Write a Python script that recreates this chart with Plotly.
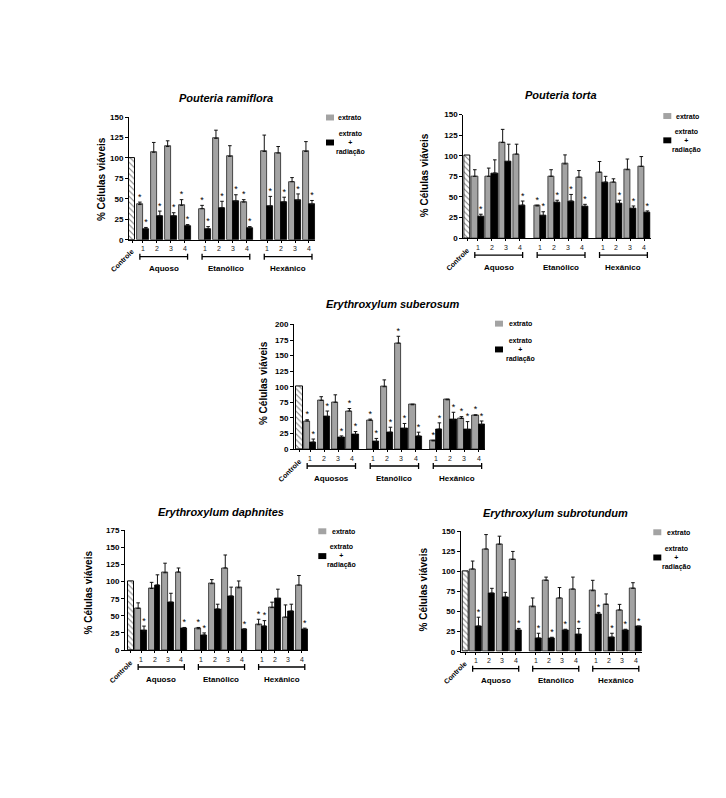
import plotly.graph_objects as go

FIG_W, FIG_H = 726, 798
OX, OY = 8, 8  # page offset of the figure in the screenshot (body margin)

FONT = "Liberation Sans, Arial, sans-serif"

# ---------------- data ----------------
dose_labels = ["1", "2", "3", "4"]
control_label = "Controle"
control_value = 100
legend_ext = "extrato"
legend_rad = "extrato<br>+<br>radiação"
y_title = "% Células viáveis"

groups_a = ["Aquoso", "Etanólico", "Hexânico"]
groups_b = ["Aquosos", "Etanólico", "Hexânico"]

# Pouteria ramiflora
pr_title = "Pouteria ramiflora"
pr_ext = [43, 107, 114, 42, 38, 124, 102, 46, 108, 106, 71, 108]
pr_ext_err = [3, 12, 7, 7, 4, 10, 13, 3, 20, 8, 5, 12]
pr_rad = [13, 29, 29, 17, 13, 39, 47, 14, 41, 46, 48, 43]
pr_rad_err = [2, 6, 4, 1.5, 3, 8, 8, 2, 12, 6, 8, 5]
pr_ext_sig = [1, 0, 0, 1, 1, 0, 0, 1, 0, 0, 0, 0]
pr_rad_sig = [1, 1, 1, 1, 1, 1, 1, 1, 1, 1, 1, 1]

# Pouteria torta
pt_title = "Pouteria torta"
pt_ext = [75, 75, 116, 102, 39, 75, 90, 74, 80, 68, 83, 87]
pt_ext_err = [8, 10, 16, 12, 1, 8, 11, 8, 13, 4, 13, 12]
pt_rad = [26, 79, 93, 40, 27, 43, 45, 38, 68, 42, 36, 31]
pt_rad_err = [3, 16, 21, 5, 5, 3, 8, 3, 7, 4, 3, 2]
pt_ext_sig = [0, 0, 0, 0, 1, 0, 0, 0, 0, 0, 0, 0]
pt_rad_sig = [1, 0, 0, 1, 1, 1, 1, 1, 0, 1, 1, 1]

# Erythroxylum suberosum
es_title = "Erythroxylum suberosum"
es_ext = [45, 78, 75, 61, 46, 100, 170, 71, 13, 79, 49, 54]
es_ext_err = [2, 6, 12, 4, 2, 11, 11, 1, 1, 1, 3, 1]
es_rad = [11, 52, 18, 23, 12, 27, 33, 21, 32, 47, 31, 39]
es_rad_err = [5, 9, 3, 5, 5, 8, 8, 6, 10, 12, 13, 6]
es_ext_sig = [1, 0, 0, 1, 1, 0, 1, 0, 1, 0, 1, 1]
es_rad_sig = [1, 1, 1, 1, 1, 1, 1, 1, 1, 1, 1, 1]

# Erythroxylum daphnites
ed_title = "Erythroxylum daphnites"
ed_ext = [61, 90, 113, 114, 31, 97, 120, 91, 37, 62, 48, 95]
ed_ext_err = [8, 9, 14, 6, 2, 6, 19, 10, 8, 8, 18, 14]
ed_rad = [28, 95, 70, 32, 22, 60, 79, 30, 35, 75, 57, 30]
ed_rad_err = [7, 15, 13, 1, 3, 7, 13, 1, 8, 14, 10, 2]
ed_ext_sig = [0, 0, 0, 0, 1, 0, 0, 0, 1, 0, 0, 0]
ed_rad_sig = [1, 0, 0, 1, 1, 0, 0, 1, 1, 0, 0, 1]

# Erythroxylum subrotundum
et_title = "Erythroxylum subrotundum"
et_ext = [103, 128, 134, 115, 56, 89, 67, 78, 76, 59, 52, 79]
et_ext_err = [10, 18, 10, 10, 11, 4, 13, 15, 13, 13, 7, 7]
et_rad = [32, 73, 68, 27, 17, 17, 27, 21, 47, 18, 27, 31]
et_rad_err = [11, 6, 6, 2, 6, 1, 1, 8, 2, 5, 1, 1]
et_ext_sig = [0, 0, 0, 0, 0, 0, 0, 0, 0, 0, 0, 0]
et_rad_sig = [1, 0, 0, 1, 1, 1, 1, 1, 1, 1, 1, 1]

# ---------------- layout geometry (screen pixels) ----------------
panels = [
    dict(title=pr_title, ext=pr_ext, ext_err=pr_ext_err, rad=pr_rad, rad_err=pr_rad_err,
         ext_sig=pr_ext_sig, rad_sig=pr_rad_sig, groups=groups_a, ymax=150,
         px0=129, px1=315.3, pytop=114.3, py0=238.3, xstart=-0.05,
         title_xy=(225.6, 95), ytitle_xy=(101, 177),
         leg=dict(sq_x=326, g_y=114.7, b_y=140, gtx=336, btx=350, b_lines_y=140.5)),
    dict(title=pt_title, ext=pt_ext, ext_err=pt_ext_err, rad=pt_rad, rad_err=pt_rad_err,
         ext_sig=pt_ext_sig, rad_sig=pt_rad_sig, groups=groups_a, ymax=150,
         px0=463.3, px1=650.7, pytop=111.7, py0=236.7, xstart=-0.15,
         title_xy=(560.5, 92.3), ytitle_xy=(424, 173),
         leg=dict(sq_x=663.3, g_y=113.2, b_y=137.8, gtx=674, btx=686, b_lines_y=138)),
    dict(title=es_title, ext=es_ext, ext_err=es_ext_err, rad=es_rad, rad_err=es_rad_err,
         ext_sig=es_ext_sig, rad_sig=es_rad_sig, groups=groups_b, ymax=200,
         px0=294, px1=485, pytop=324, py0=450, xstart=-0.4,
         title_xy=(392.5, 303.3), ytitle_xy=(263.3, 383),
         leg=dict(sq_x=495, g_y=323.2, b_y=349.3, gtx=506.7, btx=520, b_lines_y=350)),
    dict(title=ed_title, ext=ed_ext, ext_err=ed_ext_err, rad=ed_rad, rad_err=ed_rad_err,
         ext_sig=ed_ext_sig, rad_sig=ed_rad_sig, groups=groups_a, ymax=175,
         px0=125, px1=308, pytop=532.3, py0=653.3, xstart=-0.5,
         title_xy=(221, 513.3), ytitle_xy=(88, 595),
         leg=dict(sq_x=318.3, g_y=533.2, b_y=558.3, gtx=330, btx=341.7, b_lines_y=558.5)),
    dict(title=et_title, ext=et_ext, ext_err=et_ext_err, rad=et_rad, rad_err=et_rad_err,
         ext_sig=et_ext_sig, rad_sig=et_rad_sig, groups=groups_a, ymax=150,
         px0=460.7, px1=642, pytop=533.3, py0=655, xstart=-0.3,
         title_xy=(555.5, 515), ytitle_xy=(423, 592),
         leg=dict(sq_x=653.3, g_y=534.2, b_y=559.7, gtx=665, btx=676.7, b_lines_y=560)),
]

BW = 1.0
PAIR_PITCH = 2.3
GROUP_START = [1.25, 11.55, 21.85]
X_END = 30.8
GRAY = "#a3a3a3"


def fx(px):
    return (px - OX) / FIG_W


def fy(py):
    return 1 - (py - OY) / FIG_H


fig = go.Figure()
annotations = []
shapes = []
layout_axes = {}


def ann(**kw):
    kw.setdefault("showarrow", False)
    kw.setdefault("xanchor", "center")
    kw.setdefault("yanchor", "middle")
    annotations.append(kw)


for n, p in enumerate(panels, start=1):
    xa = "x" if n == 1 else f"x{n}"
    ya = "y" if n == 1 else f"y{n}"
    nvals = len(p["ext"])
    starts = [GROUP_START[i // 4] + PAIR_PITCH * (i % 4) for i in range(nvals)]
    gx = [s + 0.5 * BW for s in starts]
    bx = [s + 1.5 * BW for s in starts]

    # control bar
    fig.add_trace(go.Bar(
        x=[0.5 * BW], y=[control_value], width=BW, xaxis=xa, yaxis=ya, showlegend=False,
        name=control_label,
        marker=dict(color="white", line=dict(color="black", width=1),
                    pattern=dict(shape="\\", fgcolor="black", bgcolor="white", size=4, solidity=0.25)),
        hoverinfo="skip"))
    # extrato
    fig.add_trace(go.Bar(
        x=gx, y=p["ext"], width=BW, xaxis=xa, yaxis=ya, name=legend_ext, showlegend=False,
        marker=dict(color=GRAY, line=dict(color="#222", width=0.8)),
        error_y=dict(type="data", symmetric=False, array=p["ext_err"], arrayminus=[0] * nvals,
                     color="#111", thickness=1, width=1.8)))
    # extrato + radiação
    fig.add_trace(go.Bar(
        x=bx, y=p["rad"], width=BW, xaxis=xa, yaxis=ya, name="extrato + radiação", showlegend=False,
        marker=dict(color="black", line=dict(color="black", width=0.8)),
        error_y=dict(type="data", symmetric=False, array=p["rad_err"], arrayminus=[0] * nvals,
                     color="#111", thickness=1, width=1.8)))
    # significance stars
    sx, sy = [], []
    for i in range(nvals):
        if p["ext_sig"][i]:
            sx.append(gx[i]); sy.append(p["ext"][i] + p["ext_err"][i])
        if p["rad_sig"][i]:
            sx.append(bx[i]); sy.append(p["rad"][i] + p["rad_err"][i])
    fig.add_trace(go.Scatter(
        x=sx, y=sy, mode="text", text=["*"] * len(sx), textposition="top center",
        textfont=dict(family=FONT, size=9, color="black"), xaxis=xa, yaxis=ya,
        showlegend=False, cliponaxis=False, hoverinfo="skip"))

    key = "" if n == 1 else str(n)
    layout_axes[f"xaxis{key}"] = dict(
        domain=[fx(p["px0"]), fx(p["px1"])], anchor=ya, range=[p["xstart"], X_END],
        showgrid=False, zeroline=False, showline=True, linecolor="black", linewidth=1,
        ticks="outside", ticklen=2, tickwidth=1, tickcolor="black",
        tickvals=[0.5 * BW] + [s + BW for s in starts], showticklabels=False, fixedrange=True)
    layout_axes[f"yaxis{key}"] = dict(
        domain=[fy(p["py0"]), fy(p["pytop"])], anchor=xa, range=[0, p["ymax"]],
        dtick=25, tick0=0, showgrid=False, zeroline=False, showline=True, linecolor="black",
        linewidth=1, ticks="outside", ticklen=3, tickwidth=1, tickcolor="black",
        tickfont=dict(family=FONT, size=8, color="black", weight="bold"), fixedrange=True)

    yref = f"{ya} domain"
    # dose labels under pairs
    for i in range(nvals):
        ann(x=starts[i] + BW, y=0, xref=xa, yref=yref, yshift=-9,
            text=dose_labels[i % 4], font=dict(family=FONT, size=7, color="#222"))
    # group brackets and names
    for g in range(3):
        x_left = gx[4 * g]
        x_right = bx[4 * g + 3]
        shapes.append(dict(type="line", xref=xa, yref=yref, ysizemode="pixel", yanchor=0,
                           x0=x_left, x1=x_right, y0=-17, y1=-17,
                           line=dict(color="black", width=1.3)))
        for xe in (x_left, x_right):
            shapes.append(dict(type="line", xref=xa, yref=yref, ysizemode="pixel", yanchor=0,
                               x0=xe, x1=xe, y0=-14, y1=-20,
                               line=dict(color="black", width=1.3)))
        ann(x=(x_left + x_right) / 2, y=0, xref=xa, yref=yref, yshift=-29,
            text=p["groups"][g], font=dict(family=FONT, size=8, color="black", weight="bold"))
    # Controle label
    ann(x=0.5 * BW, y=0, xref=xa, yref=yref, xshift=-10, yshift=-21,
        text=control_label, textangle=-45,
        font=dict(family=FONT, size=7, color="black", weight="bold"))
    # title
    tx, ty = p["title_xy"]
    ann(x=fx(tx), y=fy(ty), xref="paper", yref="paper",
        text=f"<b><i>{p['title']}</i></b>", font=dict(family=FONT, size=11, color="black"))
    # y title
    yx, yy = p["ytitle_xy"]
    ann(x=fx(yx), y=fy(yy), xref="paper", yref="paper", text=y_title, textangle=-90,
        font=dict(family=FONT, size=10, color="black", weight="bold"))
    # legend keys
    L = p["leg"]
    shapes.append(dict(type="rect", xref="paper", yref="paper",
                       x0=fx(L["sq_x"]), x1=fx(L["sq_x"] + 8),
                       y0=fy(L["g_y"] + 3), y1=fy(L["g_y"] - 3),
                       fillcolor=GRAY, line=dict(width=0)))
    shapes.append(dict(type="rect", xref="paper", yref="paper",
                       x0=fx(L["sq_x"]), x1=fx(L["sq_x"] + 8),
                       y0=fy(L["b_y"] + 3), y1=fy(L["b_y"] - 3),
                       fillcolor="black", line=dict(width=0)))
    ann(x=fx(L["gtx"]), y=fy(L["g_y"]), xref="paper", yref="paper", xanchor="left",
        text=legend_ext, font=dict(family=FONT, size=7, color="black", weight="bold"))
    ann(x=fx(L["btx"]), y=fy(L["b_lines_y"]), xref="paper", yref="paper", align="center",
        text=legend_rad, font=dict(family=FONT, size=7, color="black", weight="bold"))

fig.update_layout(
    width=FIG_W, height=FIG_H, margin=dict(l=0, r=0, t=0, b=0),
    paper_bgcolor="white", plot_bgcolor="white", barmode="overlay", bargap=0,
    showlegend=False, annotations=annotations, shapes=shapes,
    font=dict(family=FONT, color="black"),
    **layout_axes)

fig.write_html("out.html")
